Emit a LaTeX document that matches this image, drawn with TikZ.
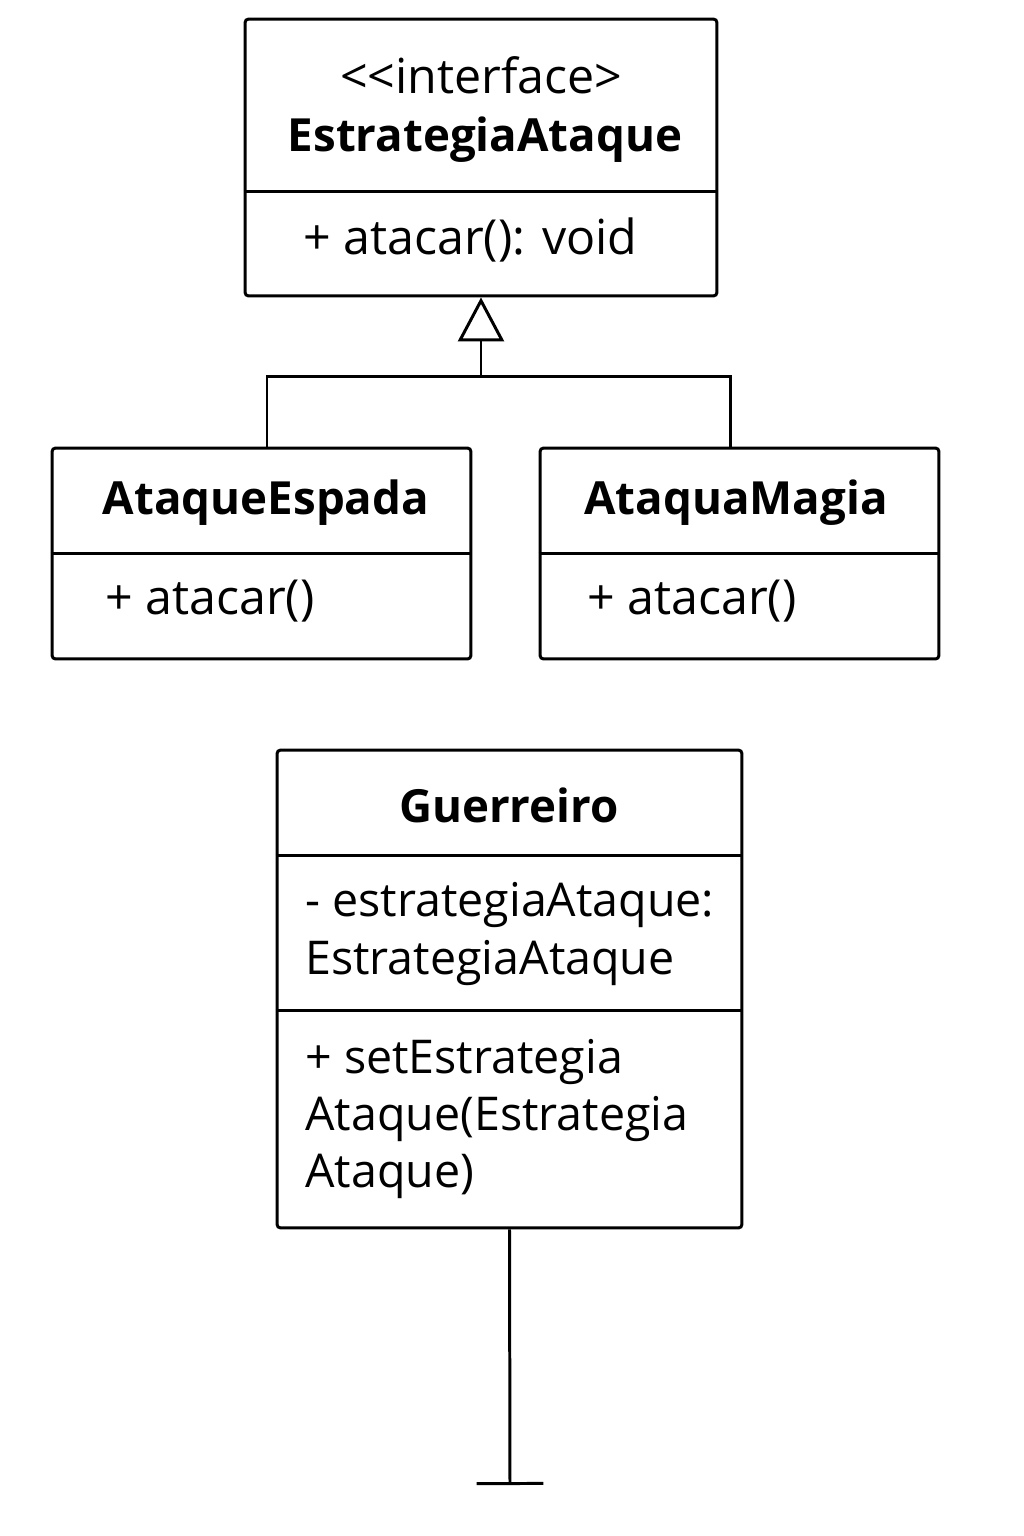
\documentclass[tikz,border=0pt]{standalone}
\usepackage{fontspec}
\setmainfont{Open Sans}
\usetikzlibrary{arrows.meta,positioning,calc}

\begin{document}
\begin{tikzpicture}[
    x=0.02cm, y=-0.02cm,
    box/.style={rectangle, draw, rounded corners=2pt, line width=1.7pt, inner sep=0pt},
    title/.style={font=\fontsize{26}{30}\selectfont\bfseries, inner sep=0pt},
    member/.style={font=\fontsize{27.5}{32}\selectfont, anchor=west, inner sep=0pt, align=left},
    conn/.style={line width=1.7pt},
]
    \useasboundingbox[fill=white] (0,0) rectangle (1024,1536);

    % interface
    \node[box, minimum width=9.44cm, minimum height=5.54cm] (iface) at (481,157.5) {};
    \node[member, anchor=center] (ifstereo) at (481,75) {<\kern0pt<interface>};
    \node[title] (ifname) at (485,140) {EstrategiaAtaque};
    \draw[conn] (iface.west |- 0,191) -- (iface.east |- 0,191);
    \node[member] (ifop) at (303,240) {+ atacar(): void};

    % concrete strategies
    \node[box, minimum width=8.38cm, minimum height=4.22cm] (espada) at (261.5,553.5) {};
    \node[title] (espname) at (266,503) {AtaqueEspada};
    \draw[conn] (espada.west |- 0,553) -- (espada.east |- 0,553);
    \node[member] (espop) at (105,601) {+ atacar()};

    \node[box, minimum width=7.98cm, minimum height=4.22cm] (magia) at (739.5,553.5) {};
    \node[title] (magname) at (736,503) {AtaquaMagia};
    \draw[conn] (magia.west |- 0,553) -- (magia.east |- 0,553);
    \node[member] (magop) at (587,601) {+ atacar()};

    % context
    \node[box, minimum width=9.3cm, minimum height=9.56cm] (guerr) at (509.5,989) {};
    \node[title] (guname) at (509,805) {Guerreiro};
    \draw[conn] (guerr.west |- 0,855) -- (guerr.east |- 0,855);
    \node[member, font=\fontsize{26.5}{32.5}\selectfont] (guattr) at (305,934) {- estrategiaAtaque:\\EstrategiaAtaque};
    \draw[conn] (guerr.west |- 0,1010) -- (guerr.east |- 0,1010);
    \node[member, font=\fontsize{26.5}{32.5}\selectfont] (guop) at (305,1119) {+ setEstrategia\\Ataque(Estrategia\\Ataque)};

    % generalization
    \coordinate (joint) at (481,376);
    \draw[conn] ([xshift=0.11cm]espada.north) |- (joint);
    \draw[conn] ([xshift=-0.19cm]magia.north) |- (joint);
    \draw[conn, -{Triangle[open, length=0.88cm, width=0.92cm]}] (joint) -- (iface.south);

    % lower end
    \coordinate (tend) at (510,1485);
    \draw[conn, -{Bar[width=1.34cm]}] (guerr.south) -- (tend);
\end{tikzpicture}
\end{document}
